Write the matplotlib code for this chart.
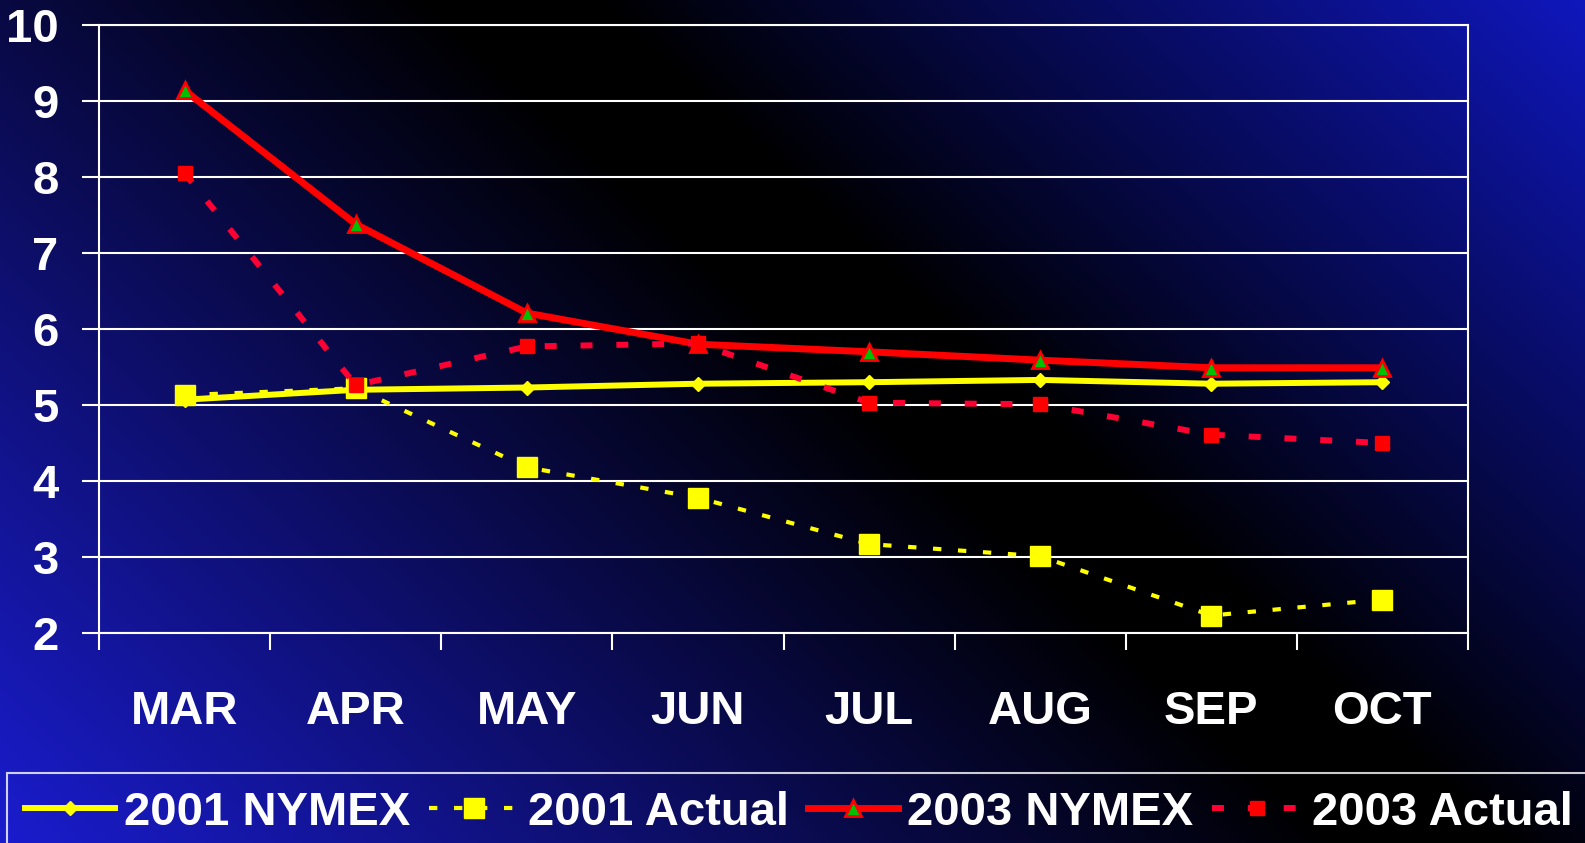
import numpy as np
import matplotlib
matplotlib.use("Agg")
import matplotlib.pyplot as plt

# data
months = ["MAR", "APR", "MAY", "JUN", "JUL", "AUG", "SEP", "OCT"]
nymex_2001 = [5.07, 5.20, 5.23, 5.28, 5.30, 5.33, 5.28, 5.30]
actual_2001 = [5.13, 5.22, 4.18, 3.78, 3.17, 3.01, 2.23, 2.44]
nymex_2003 = [9.14, 7.38, 6.21, 5.80, 5.70, 5.59, 5.49, 5.49]
actual_2003 = [8.05, 5.26, 5.77, 5.81, 5.03, 5.01, 4.61, 4.50]
y_ticks = [2, 3, 4, 5, 6, 7, 8, 9, 10]

W, H = 1585, 843
plt.rcParams['font.family'] = ['Liberation Sans', 'DejaVu Sans']
plt.rcParams['font.weight'] = 'bold'

fig = plt.figure(figsize=(W / 100, H / 100), dpi=100)

# blue-black diagonal background
yy, xx = np.mgrid[0:H, 0:W]
d = (xx - 550) * 0.68 - yy * 0.733
left = np.clip((-d - 80) / 900, 0, 1)
right = np.clip((d - 30) / 700, 0, 1)
rgb = (left[..., None] * np.array([0x1a, 0x1c, 0xcc]) / 255
       + right[..., None] * np.array([0x10, 0x18, 0xc4]) / 255)
bg = fig.add_axes([0, 0, 1, 1], zorder=-1)
bg.imshow(np.clip(rgb, 0, 1), extent=[0, 1, 0, 1], aspect='auto')
bg.axis('off')

ax = fig.add_axes([99 / W, 1 - 633 / H, (1468 - 99) / W, (633 - 25) / H])
ax.set_facecolor('none')

x = np.arange(len(months))
ax.plot(x, nymex_2001, color='#ffff00', lw=4.3, marker='D', ms=7,
        mfc='#ffff00', mec='#ffff00', label='2001 NYMEX')
ax.plot(x, actual_2001, color='#ffff00', lw=3, dashes=(2, 4), marker='s', ms=14,
        mfc='#ffff00', mec='#ffff00', label='2001 Actual')
ax.plot(x, nymex_2003, color='#ff0000', lw=5, marker='^', ms=11,
        mfc='#00c000', mec='#ff0000', mew=2, label='2003 NYMEX')
ax.plot(x, actual_2003, color='#ff0033', lw=4.3, dashes=(2, 4), marker='s', ms=10,
        mfc='#ff0000', mec='#ff0000', label='2003 Actual')

ax.set_xlim(-0.5, 7.5)
ax.set_ylim(2, 10)
ax.set_xticks(x)
ax.set_xticklabels(months)
ax.set_xticks(np.arange(-0.5, 8, 1), minor=True)
ax.tick_params(axis='x', which='major', length=0, pad=41, labelsize=34, labelcolor='white')
ax.tick_params(axis='x', which='minor', length=12, width=1.5, color='white', direction='out')
ax.set_yticks(y_ticks)
ax.tick_params(axis='y', length=12, width=1.5, color='white', pad=17, labelsize=34,
               labelcolor='white')
ax.grid(axis='y', color='white', lw=1.5)
ax.set_axisbelow(True)
for s in ax.spines.values():
    s.set_color('white')
    s.set_linewidth(1.5)

leg = fig.legend(loc='upper left', bbox_to_anchor=(7 / W, 1 - 773 / H), ncol=4, fontsize=34,
                 handlelength=1.9, handletextpad=0.2, columnspacing=0.4, borderpad=0.38,
                 borderaxespad=0, numpoints=1, fancybox=False)
leg.get_frame().set_edgecolor('white')
leg.get_frame().set_facecolor('none')
leg.get_frame().set_linewidth(1.5)
for t in leg.get_texts():
    t.set_color('white')

fig.savefig('out.png', dpi=100)
